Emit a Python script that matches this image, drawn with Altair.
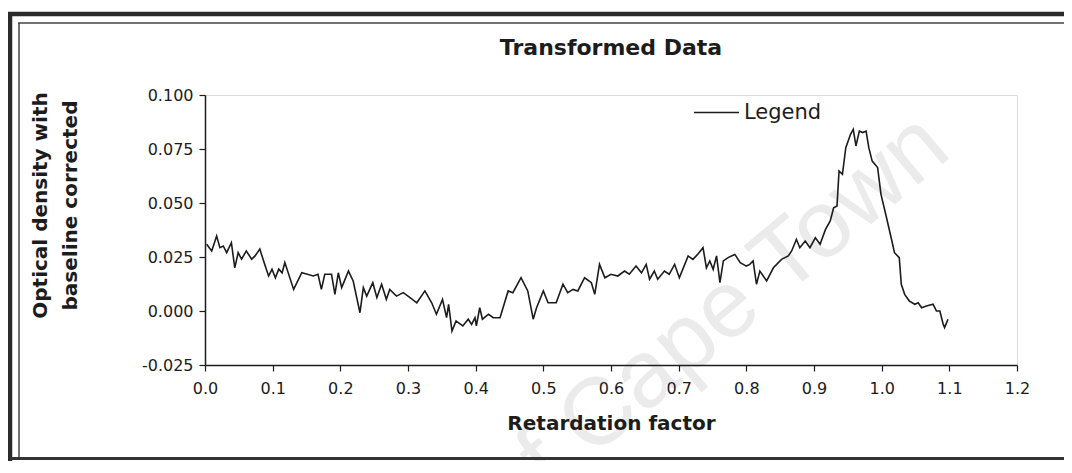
import altair as alt
import pandas as pd

# ---- data ----
rf = [0.0025, 0.0099, 0.0172, 0.022, 0.027, 0.032, 0.039, 0.044, 0.049, 0.054,
      0.061, 0.069, 0.074, 0.081, 0.089, 0.094, 0.099, 0.104, 0.109, 0.114,
      0.118, 0.131, 0.143, 0.150, 0.160, 0.167, 0.172, 0.177, 0.187, 0.192,
      0.197, 0.202, 0.212, 0.219, 0.229, 0.234, 0.239, 0.248, 0.254, 0.261,
      0.268, 0.273, 0.283, 0.293, 0.303, 0.313, 0.325, 0.335, 0.342, 0.351,
      0.357, 0.360, 0.365, 0.371, 0.381, 0.389, 0.394, 0.399, 0.401, 0.406,
      0.410, 0.419, 0.426, 0.436, 0.448, 0.455, 0.467, 0.477, 0.485, 0.490,
      0.500, 0.507, 0.519, 0.529, 0.536, 0.544, 0.551, 0.561, 0.571, 0.576,
      0.583, 0.591, 0.600, 0.610, 0.620, 0.627, 0.637, 0.645, 0.652, 0.657,
      0.664, 0.669, 0.679, 0.686, 0.694, 0.701, 0.709, 0.714, 0.721, 0.728,
      0.736, 0.741, 0.746, 0.751, 0.756, 0.761, 0.766, 0.773, 0.783, 0.791,
      0.800, 0.805, 0.810, 0.815, 0.820, 0.830, 0.840, 0.852, 0.862, 0.867,
      0.874, 0.879, 0.887, 0.894, 0.902, 0.909, 0.917, 0.924, 0.929, 0.934,
      0.937, 0.942, 0.947, 0.954, 0.958, 0.962, 0.967, 0.972, 0.977, 0.981,
      0.986, 0.994, 0.999, 1.006, 1.014, 1.019, 1.026, 1.029, 1.034, 1.041,
      1.049, 1.054, 1.059, 1.066, 1.076, 1.081, 1.086, 1.091, 1.093, 1.098]

od = [0.0309, 0.0278, 0.0347, 0.0293, 0.0301, 0.0270, 0.0316, 0.0200, 0.0270, 0.0240,
      0.0278, 0.0240, 0.0255, 0.0287, 0.0208, 0.0162, 0.0193, 0.0154, 0.0194, 0.0177,
      0.0224, 0.0100, 0.0177, 0.0171, 0.0162, 0.0170, 0.0100, 0.0170, 0.0170, 0.0077,
      0.0177, 0.0108, 0.0185, 0.0139, -0.0008, 0.0108, 0.0069, 0.0131, 0.0062, 0.0124,
      0.0054, 0.0100, 0.0069, 0.0085, 0.0062, 0.0038, 0.0093, 0.0038, -0.0015, 0.0054,
      -0.0031, 0.0031, -0.0093, -0.0046, -0.0069, -0.0038, -0.0062, -0.0031, -0.0069, 0.0015,
      -0.0038, -0.0015, -0.0031, -0.0031, 0.0093, 0.0085, 0.0154, 0.0093, -0.0038, 0.0015,
      0.0093, 0.0038, 0.0038, 0.0124, 0.0085, 0.0100, 0.0093, 0.0154, 0.0131, 0.0077,
      0.0216, 0.0154, 0.0170, 0.0162, 0.0185, 0.0170, 0.0208, 0.0177, 0.0216, 0.0147,
      0.0185, 0.0147, 0.0185, 0.0170, 0.0216, 0.0154, 0.0216, 0.0255, 0.0239, 0.0262,
      0.0293, 0.0200, 0.0232, 0.0193, 0.0255, 0.0131, 0.0232, 0.0247, 0.0262, 0.0224,
      0.0208, 0.0216, 0.0232, 0.0124, 0.0185, 0.0139, 0.0200, 0.0239, 0.0255, 0.0278,
      0.0332, 0.0293, 0.0324, 0.0293, 0.0339, 0.0309, 0.0378, 0.0417, 0.0478, 0.0486,
      0.0648, 0.0633, 0.0756, 0.0818, 0.0841, 0.0764, 0.0833, 0.0826, 0.0833, 0.0756,
      0.0694, 0.0664, 0.0540, 0.0448, 0.0339, 0.0270, 0.0247, 0.0124, 0.0077, 0.0046,
      0.0031, 0.0038, 0.0015, 0.0023, 0.0031, 0.0000, 0.0000, -0.0062, -0.0077, -0.0038]

series_name = "Legend"
x_ticks = [0.0, 0.1, 0.2, 0.3, 0.4, 0.5, 0.6, 0.7, 0.8, 0.9, 1.0, 1.1, 1.2]
y_ticks = [-0.025, 0.0, 0.025, 0.050, 0.075, 0.100]
chart_title = "Transformed Data"
x_title = "Retardation factor"
y_title = ["Optical density with", "baseline corrected"]
watermark = "of Cape Town"

df = pd.DataFrame({"rf": rf, "od": od, "series": [series_name] * len(rf)})
one = pd.DataFrame({"k": [0]})

INK = "#1c1c1c"
TITLE_FONT = "DejaVu Sans"

# ---- decorative scanned frame (pixel positions relative to plot area) ----
def hrule(y, x1, x2, w, c="#2a2a2a"):
    return alt.Chart(one).mark_rule(color=c, strokeWidth=w).encode(
        x=alt.value(x1), x2=alt.value(x2), y=alt.value(y))

def vrule(x, y1, y2, w, c="#2a2a2a"):
    return alt.Chart(one).mark_rule(color=c, strokeWidth=w).encode(
        x=alt.value(x), y=alt.value(y1), y2=alt.value(y2))

frame = [
    hrule(-81, -197, 860, 4.5),
    hrule(-72, -187, 860, 1.5, "#444"),
    vrule(-195, -83, 366, 4.5),
    vrule(-186, -72, 364, 1.5, "#444"),
    hrule(363.5, -195, 860, 3, "#333"),
]

wm = alt.Chart(one).mark_text(
    text=watermark, angle=320, fontSize=95, font="Liberation Sans",
    color="#ebebeb", align="center", baseline="alphabetic"
).encode(x=alt.value(527), y=alt.value(246))

title = alt.Chart(one).mark_text(
    text=chart_title, font=TITLE_FONT, fontSize=22, fontWeight="bold",
    color=INK, align="center", baseline="middle"
).encode(x=alt.value(406), y=alt.value(-47))

line = alt.Chart(df).mark_line(strokeWidth=1.6, interpolate="linear").encode(
    x=alt.X("rf:Q",
            scale=alt.Scale(domain=[0, 1.2], nice=False, zero=False),
            axis=alt.Axis(values=x_ticks, format=".1f", title=x_title, zindex=1,
                          labelFont="DejaVu Sans", labelFontSize=16, labelColor=INK,
                          labelPadding=9, labelFlush=False,
                          tickSize=6, tickWidth=1.2, tickColor=INK,
                          domainColor=INK, domainWidth=1.5,
                          titleFont=TITLE_FONT, titleFontWeight="bold", titleFontSize=20,
                          titleColor=INK, titleBaseline="middle", titleY=58, grid=False)),
    y=alt.Y("od:Q",
            scale=alt.Scale(domain=[-0.025, 0.1], nice=False, zero=False),
            axis=alt.Axis(values=y_ticks, zindex=1,
                          labelExpr="datum.value < 0 ? '-' + format(-datum.value, '.3f') : format(datum.value, '.3f')",
                          title=y_title,
                          labelFont="DejaVu Sans", labelFontSize=16, labelColor=INK,
                          labelPadding=6, labelFlush=False,
                          tickSize=6, tickWidth=1.2, tickColor=INK,
                          domainColor=INK, domainWidth=1.5,
                          titleFont=TITLE_FONT, titleFontWeight="bold", titleFontSize=20,
                          titleColor=INK, titleAngle=270, titleAlign="center",
                          titleBaseline="middle", titleLineHeight=30,
                          titleX=-165, titleY=110, grid=False)),
    color=alt.Color("series:N", scale=alt.Scale(range=[INK]),
                    legend=alt.Legend(title=None, orient="none", legendX=488, legendY=-6,
                                      symbolType="stroke", symbolSize=2025,
                                      symbolStrokeWidth=1.4, labelOffset=4,
                                      labelFont="DejaVu Sans", labelFontSize=21,
                                      labelColor=INK)),
)

chart = alt.layer(wm, *frame, title, line).properties(
    width=812, height=270,
    autosize=alt.AutoSizeParams(type="none"),
    padding={"left": 197, "top": 87, "right": 47, "bottom": 96},
).configure_view(stroke=None).configure(background="white")

chart.save("out.html", embed_options={"renderer": "svg", "actions": False})
